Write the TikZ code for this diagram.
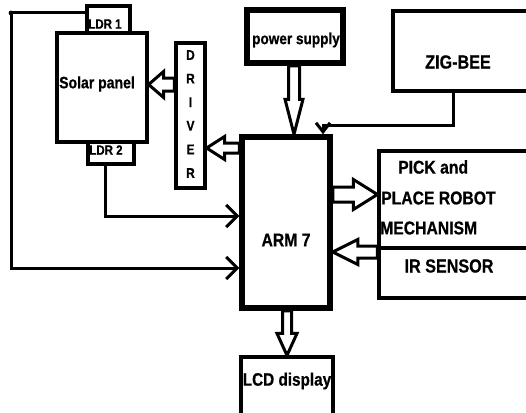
\documentclass[tikz,border=0pt]{standalone}
\usepackage{fontspec}
\setmainfont[FakeStretch=0.85, BoldFeatures={FakeBold=0.6}]{Liberation Sans}
\usetikzlibrary{calc,arrows.meta}
\newcommand\fs[1]{\fontsize{#1}{#1}\selectfont\bfseries}
\begin{document}
\begin{tikzpicture}[x=1pt,y=-1pt,
  box/.style={draw, line width=3.2pt, fill=white, inner sep=0pt},
  thickbox/.style={box, line width=5.5pt},
  lbl/.style={inner sep=0pt},
  conn/.style={line width=3pt},
  barb/.style={-{Straight Barb[length=11pt,width=22pt]}},
  hollow/.style n args={3}{draw, fill=white, line width=3pt, line join=miter,
    to path={let \p9=($(\tikztotarget)!#3!(\tikztostart)$) in
      ($(\tikztostart)!#1!90:(\tikztotarget)$) -- ($(\p9)!#1!90:(\tikztotarget)$)
      -- ($(\p9)!#2!90:(\tikztotarget)$) -- (\tikztotarget)
      -- ($(\p9)!#2!-90:(\tikztotarget)$) -- ($(\p9)!#1!-90:(\tikztotarget)$)
      -- ($(\tikztostart)!#1!-90:(\tikztotarget)$) -- cycle}}]
\useasboundingbox (0,0) rectangle (526,412);

% boxes
\node[box, minimum width=43pt, minimum height=38pt] (ldr1) at (108.5,25) {};
\node[box, minimum width=46pt, minimum height=30pt] (ldr2) at (111,149) {};
\node[box, minimum width=90pt, minimum height=109pt] (panel) at (102,87.5) {};
\node[box, minimum width=29pt, minimum height=145pt] (driver) at (190.5,115.5) {};
\node[thickbox, minimum width=96pt, minimum height=53pt] (power) at (295,36.5) {};
\node[box, minimum width=145pt, minimum height=80pt] (zig) at (465.5,51) {};
\node[thickbox, minimum width=88pt, minimum height=171pt] (arm) at (286,222.5) {};
\node[box, minimum width=160pt, minimum height=97pt] (pick) at (459,199.5) {};
\node[box, minimum width=160pt, minimum height=50pt] (ir) at (459,273) {};
\node[box, minimum width=92pt, minimum height=70pt] (lcd) at (287,392) {};

% labels
\node[lbl, font=\fs{13.5}] (ldr1t) at (105,24) {LDR 1};
\node[lbl, font=\fs{13.5}] (ldr2t) at (106,150) {LDR 2};
\node[lbl, font=\fs{16.5}] (panelt) at (97,84) {Solar panel};
\node[lbl, align=center, font={\fontsize{14}{23.6}\selectfont\bfseries}] (drivert) at (190.5,114) {D\\R\\I\\V\\E\\R};
\node[lbl, font=\fs{16}] (powert) at (296,40) {power supply};
\node[lbl, font=\fs{19}] (zigt) at (458,62) {ZIG-BEE};
\node[lbl, font=\fs{18.5}] (armt) at (286,240) {ARM 7};
\node[lbl, anchor=west, font=\fs{18.5}] (pick1) at (398,167) {PICK and};
\node[lbl, anchor=west, font=\fs{18.5}] (pick2) at (381,198) {PLACE ROBOT};
\node[lbl, anchor=west, font=\fs{18.5}] (pick3) at (380,228) {MECHANISM};
\node[lbl, font=\fs{19}] (irt) at (449,266) {IR SENSOR};
\node[lbl, font=\fs{18}] (lcdt) at (287,381) {LCD display};

% line connectors
\coordinate (dot) at (11,13);
\fill (dot) circle (2.4pt);
\draw[conn, barb] (ldr1.west |- dot) -- (dot) |- (arm.west |- 0,268);
\draw[conn, barb] (ldr2.south -| 105,0) |- (arm.west |- 0,216);
\draw[conn, -{Straight Barb[length=9pt,width=14pt]}] (zig.south -| 453,0) -- (453,125) -| (arm.north -| 323,0);

% hollow block arrows
\coordinate (h1a) at (driver.west |- 0,84.5);
\coordinate (h1b) at (panel.east |- 0,84.5);
\coordinate (h2a) at (arm.west |- 0,148);
\coordinate (h2b) at (driver.east |- 0,148);
\coordinate (h3a) at (power.south -| 294,0);
\coordinate (h3b) at (arm.north -| 294,0);
\coordinate (h4a) at (arm.east |- 0,194.5);
\coordinate (h4b) at (pick.west |- 0,194.5);
\coordinate (h5a) at (ir.west |- 0,252);
\coordinate (h5b) at (arm.east |- 0,252);
\coordinate (h6a) at (arm.south -| 287,0);
\coordinate (h6b) at (lcd.north -| 287,0);
\draw[hollow={6.5pt}{13pt}{15pt}] (h1a) to (h1b);
\draw[hollow={5pt}{11.5pt}{18pt}] (h2a) to (h2b);
\draw[hollow={5.5pt}{9pt}{35pt}] (h3a) to (h3b);
\draw[hollow={7.5pt}{15pt}{24pt}] (h4a) to (h4b);
\draw[hollow={6pt}{12.5pt}{25pt}] (h5a) to (h5b);
\draw[hollow={4.5pt}{10pt}{22pt}] (h6a) to (h6b);
\end{tikzpicture}
\end{document}
